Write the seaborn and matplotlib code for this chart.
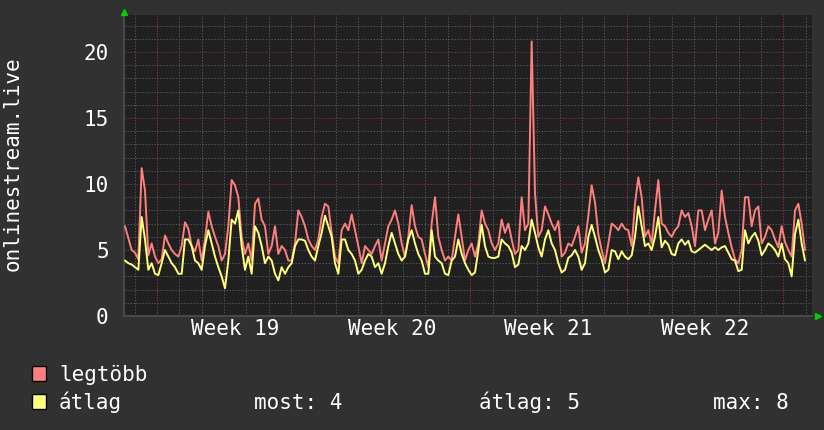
import numpy as np
import pandas as pd
import matplotlib
matplotlib.use("Agg")
import matplotlib.pyplot as plt
import seaborn as sns
from matplotlib.patches import Rectangle

# ---------------- data ----------------
max_part1 = [6.8, 5.9, 5.0, 4.8, 4.3, 11.2, 9.5, 4.6, 5.5, 4.5, 4.0, 4.3, 6.1, 5.5, 5.0, 4.7, 4.5, 5.3,
             7.1, 6.6, 5.3, 4.9, 5.8, 4.2, 5.8, 7.9, 6.8, 6.0, 5.3, 4.2, 4.7, 6.8, 10.3, 9.9, 9.0, 6.0,
             4.7, 5.5, 4.2, 8.5, 8.9, 7.3, 6.8, 4.7, 5.3, 6.8, 4.7, 5.3, 5.0, 4.2, 4.2, 5.5, 8.0]
max_part2 = [7.5, 6.8, 5.8, 5.3, 5.0, 5.8, 7.5, 8.5, 8.3, 6.3, 4.5, 4.0, 6.5, 7.0, 6.5, 7.7, 6.5, 5.3,
             4.0, 5.3, 5.0, 4.7, 5.3, 5.8, 4.2, 5.5, 6.8, 7.3, 8.0, 7.0, 5.5, 4.5, 6.0, 8.4, 6.8, 6.0,
             5.8, 4.7, 3.7, 7.0, 9.0, 6.0, 5.0, 4.2, 4.5, 4.2, 6.0, 7.7, 6.0, 4.2, 5.0, 5.5]
max_part3 = [4.5, 5.5, 8.0, 7.0, 6.5, 5.5, 5.0, 5.5, 7.3, 6.3, 7.0, 5.8, 4.7, 5.0, 9.0, 6.5, 7.0, 20.8,
             9.3, 6.0, 6.5, 8.3, 7.7, 7.0, 6.5, 7.2, 4.5, 4.8, 5.5, 5.3, 6.0, 6.8, 4.8, 5.5, 7.6, 9.9,
             8.6, 6.2, 5.0, 4.0, 5.5, 7.0, 6.8, 6.5, 7.0, 6.6, 6.5, 5.3, 8.5, 10.5, 9.0, 6.0, 6.5]
max_part4 = [5.5, 8.0, 10.3, 7.0, 6.8, 6.3, 6.0, 6.5, 6.8, 8.0, 7.5, 7.8, 6.8, 5.3, 8.0, 8.0, 6.5, 7.3,
             8.0, 5.5, 6.3, 9.5, 7.5, 6.3, 5.2, 4.3, 4.0, 5.0, 9.0, 9.0, 6.8, 8.0, 8.3, 5.5, 6.0, 6.8,
             6.5, 5.8, 5.2, 6.8, 5.6, 5.0, 4.5, 8.0, 8.5, 7.0, 5.0]

avg_part1 = [4.2, 4.0, 3.9, 3.7, 3.5, 7.5, 5.8, 3.5, 4.0, 3.2, 3.1, 4.0, 5.0, 4.5, 4.0, 3.7, 3.2, 3.2,
             5.8, 5.8, 5.3, 4.2, 4.0, 3.5, 5.3, 6.5, 5.5, 4.5, 3.7, 3.0, 2.1, 4.2, 7.3, 7.0, 8.0, 5.3,
             3.5, 4.5, 3.2, 6.8, 6.3, 5.3, 4.0, 4.5, 4.2, 3.2, 2.7, 3.7, 3.2, 3.7, 4.0, 5.3, 5.8]
avg_part2 = [5.8, 5.7, 5.0, 4.5, 4.2, 5.3, 6.3, 7.6, 6.8, 6.0, 4.0, 3.2, 5.8, 5.8, 5.0, 4.7, 4.2, 3.2,
             3.5, 4.2, 4.7, 4.5, 3.7, 4.0, 3.2, 4.0, 5.3, 6.3, 5.5, 4.7, 4.2, 4.5, 5.8, 6.5, 5.5, 4.7,
             4.2, 3.2, 3.2, 6.5, 4.5, 4.2, 4.0, 3.2, 3.1, 4.2, 4.5, 5.8, 4.7, 4.0, 3.5, 3.1]
avg_part3 = [3.3, 5.0, 6.9, 5.3, 4.5, 4.4, 4.4, 4.5, 5.8, 5.5, 5.3, 4.8, 3.7, 3.9, 5.3, 5.0, 5.5, 7.3,
             6.3, 5.2, 4.5, 5.8, 6.5, 5.5, 5.0, 4.0, 3.3, 3.5, 4.4, 4.6, 5.0, 4.5, 3.5, 4.0, 6.0, 6.9,
             6.0, 5.0, 4.3, 3.3, 3.5, 5.0, 4.9, 4.3, 4.9, 4.5, 4.3, 4.6, 6.0, 8.3, 6.8, 5.3, 5.5]
avg_part4 = [5.0, 6.0, 7.5, 5.2, 5.7, 5.4, 4.7, 4.6, 5.5, 5.8, 5.4, 5.7, 4.9, 4.8, 5.0, 5.2, 5.4, 5.2,
             5.0, 5.2, 5.0, 5.2, 5.3, 4.8, 4.3, 4.2, 3.4, 3.5, 6.5, 5.5, 6.0, 6.3, 5.7, 4.6, 5.0, 5.5,
             5.3, 5.0, 4.5, 5.5, 4.3, 4.0, 3.0, 6.2, 7.3, 5.5, 4.2]

max_values = max_part1 + max_part2 + max_part3 + max_part4
avg_values = avg_part1 + avg_part2 + avg_part3 + avg_part4

series_names = ["legtöbb", "átlag"]
week_labels = ["Week 19", "Week 20", "Week 21", "Week 22"]
y_tick_values = [0, 5, 10, 15, 20]
stat_texts = ["most: 4", "átlag: 5", "max: 8"]
y_title = "onlinestream.live"

# ---------------- layout / style ----------------
W, H = 824, 430
BG = "#313131"
FACE = "#202020"
RED = "#ff7f7f"
YEL = "#ffff78"
MINOR = "#505050"
MAJOR = "#6e3232"
ARROW = "#00d000"

PX_PER_DAY = 156.6 / 7.0
SPAN_DAYS = 688 / PX_PER_DAY
WEEK0 = (157 - 124) / PX_PER_DAY

sns.set_style("dark", rc={"axes.facecolor": FACE, "figure.facecolor": BG})
plt.rcParams["font.family"] = ["DejaVu Sans Mono", "DejaVu Sans"]

n = len(max_values)
t = np.linspace(1 / PX_PER_DAY, 681 / PX_PER_DAY, n)
df = pd.DataFrame({
    "t": np.concatenate([t, t]),
    "v": max_values + avg_values,
    "s": [series_names[0]] * n + [series_names[1]] * n,
})

fig = plt.figure(figsize=(W / 100, H / 100), dpi=100, facecolor=BG)
ax = fig.add_axes([124 / W, (H - 316) / H, 688 / W, 301 / H])
ax.set_facecolor(FACE)

sns.lineplot(data=df, x="t", y="v", hue="s", palette=[RED, YEL], estimator=None,
             sort=False, legend=False, linewidth=1.4, ax=ax, zorder=5)

ax.set_xlim(0, SPAN_DAYS)
ax.set_ylim(0, 301 / 13.2)

# grid
day_lines = WEEK0 + np.arange(-1, 30)
day_lines = day_lines[(day_lines > 0) & (day_lines < SPAN_DAYS)]
week_lines = WEEK0 + 7 * np.arange(0, 5)
label_pos = WEEK0 + 3.5 + 7 * np.arange(len(week_labels))

ax.set_xticks(label_pos)
ax.set_xticklabels(week_labels)
ax.set_xticks(day_lines, minor=True)
ax.set_yticks(y_tick_values)
ax.set_yticks(np.arange(1, 23), minor=True)

dash = (0, (1.5, 1.5))
ax.xaxis.grid(False, which="major")
ax.xaxis.grid(True, which="minor", color=MINOR, linewidth=0.72, linestyle=dash)
ax.yaxis.grid(True, which="minor", color=MINOR, linewidth=0.72, linestyle=dash)
ax.yaxis.grid(True, which="major", color=MAJOR, linewidth=0.72, linestyle=dash)
for wl in week_lines:
    if wl < SPAN_DAYS:
        ax.axvline(wl, color=MAJOR, linewidth=0.72, linestyle=dash, zorder=1)
ax.set_axisbelow(True)

ax.tick_params(axis="both", which="both", length=0, colors="white", labelsize=15)
ax.tick_params(axis="y", pad=11)
ax.tick_params(axis="x", pad=2)
ax.set_xlabel("")
ax.set_ylabel("")

for side in ["top", "right"]:
    ax.spines[side].set_visible(False)
for side in ["left", "bottom"]:
    ax.spines[side].set_color("#484848")
    ax.spines[side].set_linewidth(1.5)

# axis arrows
ax.plot([0], [1.01], marker="^", color=ARROW, markersize=5, transform=ax.transAxes,
        clip_on=False, zorder=10)
ax.plot([1.008], [0], marker=">", color=ARROW, markersize=5, transform=ax.transAxes,
        clip_on=False, zorder=10)

# y title
fig.text(13 / W, 1 - 164 / H, y_title, rotation=90, ha="center", va="center",
         fontsize=15, color="white")

# legend
for i, (name, col) in enumerate(zip(series_names, [RED, YEL])):
    top = 366 + 28 * i
    fig.add_artist(Rectangle((32 / W, 1 - (top + 15) / H), 14 / W, 15 / H,
                             transform=fig.transFigure, facecolor=col,
                             edgecolor="black", linewidth=1))
    fig.text(59 / W, 1 - (top + 15) / H, name, ha="left", va="baseline",
             fontsize=15, color="white")

for txt, xl in zip(stat_texts, [254, 479, 713]):
    fig.text(xl / W, 1 - 409 / H, txt, ha="left", va="baseline", fontsize=15, color="white")

fig.savefig("out.png", dpi=100, facecolor=BG)
